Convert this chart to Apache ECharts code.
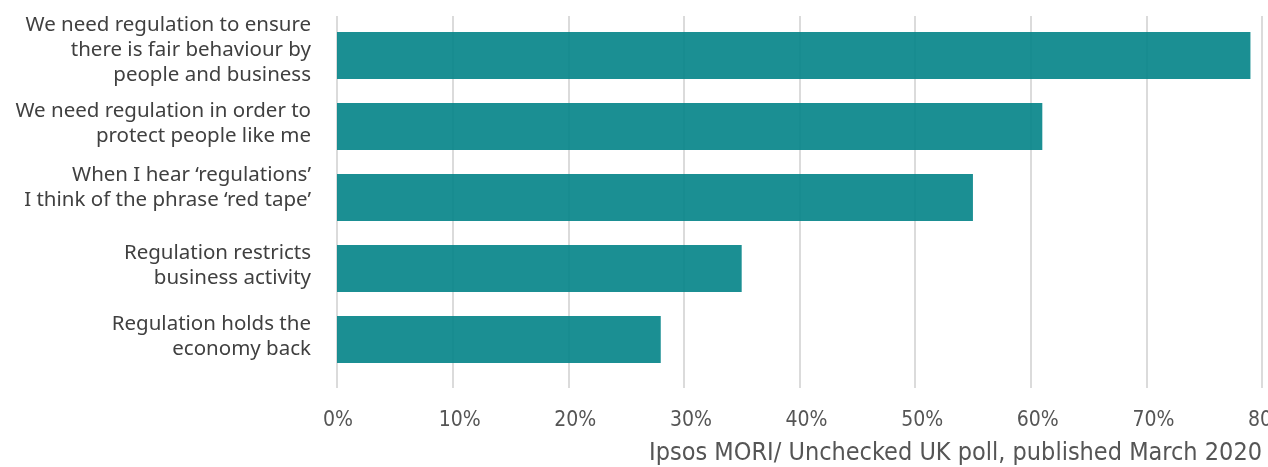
<!DOCTYPE html>
<html><head><meta charset="utf-8">
<script src="https://cdn.jsdelivr.net/npm/echarts@6/dist/echarts.min.js"></script>
<style>html,body{margin:0;padding:0;background:#fff}#c{width:1268px;height:467px}</style>
</head><body><div id="c"></div>
<script>
const categories = [
  "We need regulation to ensure\nthere is fair behaviour by\npeople and business",
  "We need regulation in order to\nprotect people like me",
  "When I hear \u2018regulations\u2019\nI think of the phrase \u2018red tape\u2019",
  "Regulation restricts\nbusiness activity",
  "Regulation holds the\neconomy back"
];
const values = [79, 61, 55, 35, 28];
const tickLabels = ["0%","10%","20%","30%","40%","50%","60%","70%","80%"];
const sourceText = "Ipsos MORI/ Unchecked UK poll, published March 2020";
const labelLift = [5, 3, 10, 3, 3];

const narrow = '"DejaVu Sans Condensed", "Roboto Condensed", "Liberation Sans Narrow", Roboto, sans-serif';
const rich = {a: {lineHeight: 25, fontFamily: 'Noto Sans', fontSize: 20.5, color: '#404040', align: 'right'}};
labelLift.forEach((l, i) => { rich['s' + i] = {lineHeight: 2 * l, fontSize: 1, height: 2 * l}; });

const chart = echarts.init(document.getElementById('c'), null, {renderer:'canvas'});
chart.setOption({
  animation: false,
  backgroundColor: '#fff',
  grid: [
    {left: 337, right: 6, top: 16, height: 372, containLabel: false, outerBoundsMode: 'none'},
    {left: 337, right: 6, top: 20, height: 355, containLabel: false, outerBoundsMode: 'none'}
  ],
  xAxis: [
    {gridIndex: 0, type: 'value', min: 0, max: 80, interval: 10,
     axisLine: {show: false}, axisTick: {show: false},
     splitLine: {show: true, lineStyle: {color: '#cfcfcf', width: 1.5}},
     axisLabel: {margin: 22, align: 'left', padding: [0,0,0,-14], color: '#555',
       fontFamily: narrow, fontSize: 21, hideOverlap: false, showMaxLabel: true, showMinLabel: true,
       formatter: (v) => tickLabels[Math.round(v/10)] }},
    {gridIndex: 1, type: 'value', min: 0, max: 80, show: false}
  ],
  yAxis: [
    {gridIndex: 0, type: 'value', show: false},
    {gridIndex: 1, type: 'category', inverse: true, data: categories,
     axisLine: {show: false}, axisTick: {show: false},
     axisLabel: {interval: 0, hideOverlap: false, margin: 26, color: '#404040', fontFamily: 'Noto Sans', fontSize: 20.5,
       lineHeight: 25, align: 'right', rich: rich,
       formatter: (v, i) => '{a|' + v + '}\n{s' + i + '| }'}}
  ],
  series: [{
    type: 'bar', xAxisIndex: 1, yAxisIndex: 1, data: values, barWidth: 47,
    itemStyle: {color: 'rgb(2,131,135)', opacity: 0.9}
  }],
  graphic: [{
    type: 'text', right: 6, top: 441,
    style: {text: sourceText, fill: '#555', font: '25px ' + narrow}
  }]
});
</script></body></html>
